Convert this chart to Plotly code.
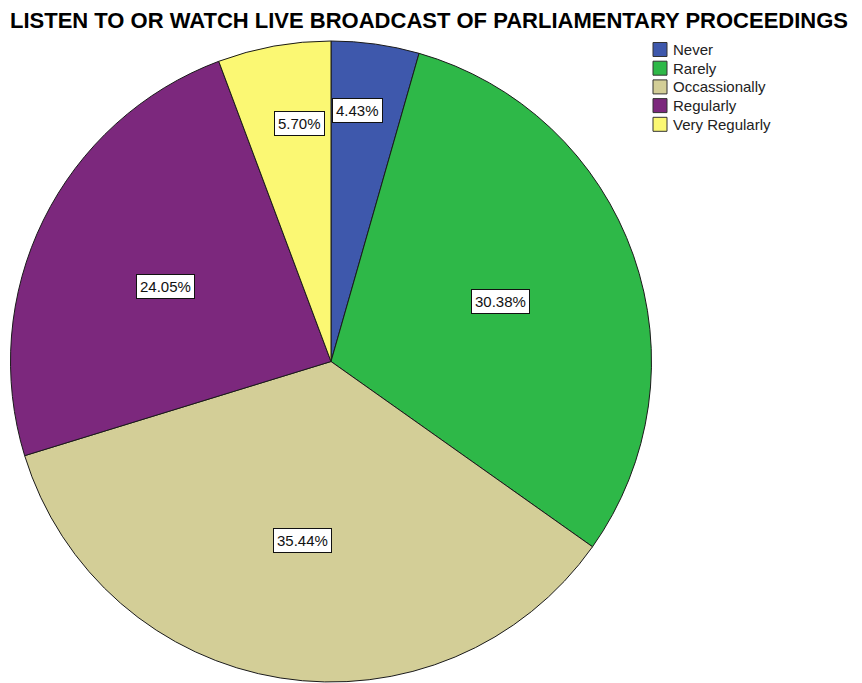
import plotly.graph_objects as go
import math

# Survey responses: listening to / watching live broadcasts of parliamentary proceedings
categories = ["Never", "Rarely", "Occassionally", "Regularly", "Very Regularly"]
counts = [7, 48, 56, 38, 9]
colors = ["#3E58AC", "#2EB848", "#D3CE97", "#7C287D", "#FBF873"]

W, H = 862, 683
CX, CY, R = 331, 361.5, 320.5  # pie centre and radius in pixels
FONT = "Liberation Sans, Arial"

total = sum(counts)
percents = [c / total * 100 for c in counts]

fig = go.Figure(
    go.Pie(
        labels=categories,
        values=counts,
        marker=dict(colors=colors, line=dict(color="#1a1a1a", width=1)),
        sort=False,
        direction="clockwise",
        rotation=0,
        textinfo="none",
        hoverinfo="label+percent",
        showlegend=False,
        domain=dict(x=[(CX - R) / W, (CX + R) / W], y=[(H - CY - R) / H, (H - CY + R) / H]),
    )
)

# Boxed percentage labels placed along each slice's mid-angle
label_radius = [0.79, 0.56, 0.565, 0.575, 0.755]
label_xshift = [-9, 0, 0, 0, 12]
label_yshift = [0, 0, 0, 6, 0]
cum = 0.0
for pct, rf, xs, ys in zip(percents, label_radius, label_xshift, label_yshift):
    mid = (cum + pct / 2) / 100 * 2 * math.pi
    cum += pct
    px = CX + rf * R * math.sin(mid) + xs
    py = CY - rf * R * math.cos(mid) + ys
    fig.add_annotation(
        x=px / W, y=1 - py / H, xref="paper", yref="paper",
        text=f"{pct:.2f}%", showarrow=False,
        font=dict(family=FONT, size=15, color="#111"),
        bgcolor="white", bordercolor="#111", borderwidth=1, borderpad=3,
        xanchor="center", yanchor="middle",
    )

# Legend: colour swatch plus category name per row
LEG_X, LEG_Y0, LEG_DY, SW = 653, 49.5, 18.7, 14
for i, (name, col) in enumerate(zip(categories, colors)):
    yc = LEG_Y0 + i * LEG_DY
    fig.add_shape(
        type="rect", xref="paper", yref="paper",
        x0=LEG_X / W, x1=(LEG_X + SW) / W,
        y0=1 - (yc - SW / 2) / H, y1=1 - (yc + SW / 2) / H,
        fillcolor=col, line=dict(color="#333", width=1),
    )
    fig.add_annotation(
        x=(LEG_X + SW + 4) / W, y=1 - yc / H, xref="paper", yref="paper",
        text=name, showarrow=False, xanchor="left", yanchor="middle",
        font=dict(family=FONT, size=15, color="#222"),
    )

fig.update_layout(
    width=W, height=H,
    margin=dict(l=0, r=0, t=0, b=0),
    paper_bgcolor="white",
    showlegend=False,
    title=dict(
        text="<b>LISTEN TO OR WATCH LIVE BROADCAST OF PARLIAMENTARY PROCEEDINGS</b>",
        x=429 / W, xanchor="center", y=1 - 20 / H, yanchor="middle",
        font=dict(family=FONT, size=22, color="black"),
    ),
)

fig.write_html("out.html")
